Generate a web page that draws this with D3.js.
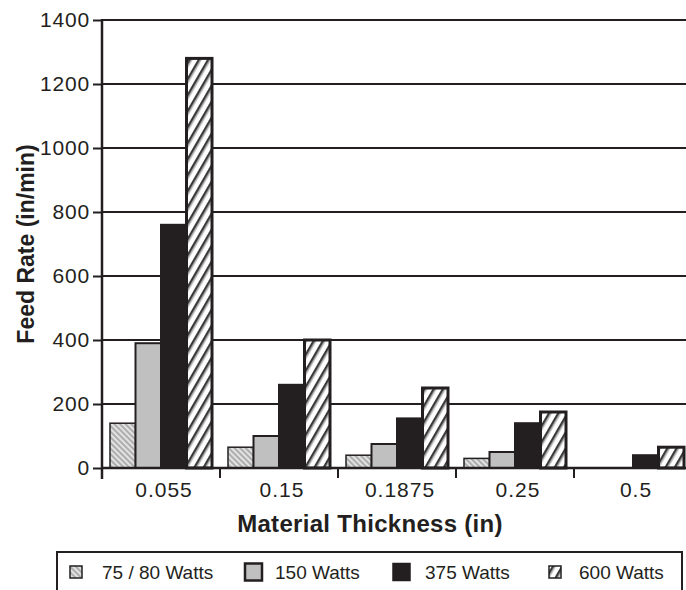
<!DOCTYPE html>
<html>
<head>
<meta charset="utf-8">
<script src="https://cdn.jsdelivr.net/npm/d3@7"></script>
<style>
    body { margin: 0; background: #fff; }
    text { font-family: "Liberation Sans", Arial, sans-serif; fill: #231f20; }
</style>
</head>
<body>
<div id="chart"></div>
<script>
    // chart data
    var categories = ['0.055', '0.15', '0.1875', '0.25', '0.5'];
    var seriesNames = ['75 / 80 Watts', '150 Watts', '375 Watts', '600 Watts'];
    var watts75 = [140, 65, 40, 30, 0];
    var watts150 = [390, 100, 75, 50, 0];
    var watts375 = [760, 260, 155, 140, 40];
    var watts600 = [1280, 400, 250, 175, 65];
    var yTicks = [0, 200, 400, 600, 800, 1000, 1200, 1400];

    var seriesValues = [watts75, watts150, watts375, watts600];
    var ink = '#231f20';

    var width = 686, height = 590;
    var svg = d3.select('#chart')
        .append('svg')
        .attr('width', width)
        .attr('height', height);

    // fill patterns
    var defs = svg.append('defs');
    var p1 = defs.append('pattern')
        .attr('id', 'hatchLight')
        .attr('patternUnits', 'userSpaceOnUse')
        .attr('width', 4).attr('height', 4)
        .attr('patternTransform', 'rotate(-45)');
    p1.append('rect').attr('width', 4).attr('height', 4).attr('fill', '#e2e2e2');
    p1.append('rect').attr('width', 1.8).attr('height', 4).attr('fill', '#a8a8a8');

    var p4 = defs.append('pattern')
        .attr('id', 'hatchDark')
        .attr('patternUnits', 'userSpaceOnUse')
        .attr('width', 8).attr('height', 8)
        .attr('patternTransform', 'rotate(30)');
    p4.append('rect').attr('width', 8).attr('height', 8).attr('fill', '#ffffff');
    p4.append('rect').attr('x', 1).attr('width', 2.5).attr('height', 8).attr('fill', '#3a3a3a');
    p4.append('rect').attr('x', 3.5).attr('width', 1).attr('height', 8).attr('fill', '#9a9a9a');

    var fills = ['url(#hatchLight)', '#c0c0c0', ink, 'url(#hatchDark)'];
    var strokeWidths = [1.5, 2, 2, 3];

    // scales
    var x0 = d3.scaleBand()
        .domain(categories)
        .range([102, 692])
        .paddingInner(0)
        .paddingOuter(0);

    var x1 = d3.scaleBand()
        .domain(d3.range(seriesNames.length))
        .range([8, x0.bandwidth() - 8]);

    var y = d3.scaleLinear()
        .domain([0, 1400])
        .range([468, 20]);

    // gridlines
    svg.append('g')
        .selectAll('line.grid')
        .data(yTicks.filter(function (d) { return d > 0; }))
        .enter()
        .append('line')
        .attr('class', 'grid')
        .attr('x1', 102)
        .attr('x2', width)
        .attr('y1', function (d) { return y(d); })
        .attr('y2', function (d) { return y(d); })
        .attr('stroke', ink)
        .attr('stroke-width', 2);

    // bars
    var bars = [];
    categories.forEach(function (c, ci) {
        seriesValues.forEach(function (vals, si) {
            if (vals[ci] > 0) {
                bars.push({cat: c, s: si, v: vals[ci]});
            }
        });
    });

    svg.append('g')
        .selectAll('rect.bar')
        .data(bars)
        .enter()
        .append('rect')
        .attr('class', 'bar')
        .attr('x', function (d) { return x0(d.cat) + x1(d.s); })
        .attr('y', function (d) { return y(d.v); })
        .attr('width', x1.bandwidth())
        .attr('height', function (d) { return y(0) - y(d.v); })
        .attr('fill', function (d) { return fills[d.s]; })
        .attr('stroke', ink)
        .attr('stroke-width', function (d) { return strokeWidths[d.s]; });

    // y axis
    var yAxis = d3.axisLeft(y)
        .tickValues(yTicks)
        .tickSize(9)
        .tickPadding(3)
        .tickFormat(d3.format('d'));

    var gy = svg.append('g')
        .attr('transform', 'translate(102,0)')
        .call(yAxis);
    gy.select('.domain').remove();
    gy.selectAll('line').attr('stroke', ink).attr('stroke-width', 2);
    gy.selectAll('text')
        .attr('font-size', 21)
        .attr('letter-spacing', 0.8)
        .attr('fill', ink);
    gy.append('line')
        .attr('x1', 0).attr('x2', 0)
        .attr('y1', 19).attr('y2', 479)
        .attr('stroke', ink)
        .attr('stroke-width', 2.5);

    // x axis
    var gx = svg.append('g')
        .attr('transform', 'translate(0,468)');
    gx.append('line')
        .attr('x1', 102).attr('x2', width)
        .attr('y1', 0).attr('y2', 0)
        .attr('stroke', ink)
        .attr('stroke-width', 2.5);
    gx.selectAll('line.tick')
        .data(categories.slice(1))
        .enter()
        .append('line')
        .attr('class', 'tick')
        .attr('x1', function (d) { return x0(d); })
        .attr('x2', function (d) { return x0(d); })
        .attr('y1', 0).attr('y2', 10)
        .attr('stroke', ink)
        .attr('stroke-width', 2);
    gx.selectAll('text.cat')
        .data(categories)
        .enter()
        .append('text')
        .attr('class', 'cat')
        .attr('x', function (d) { return x0(d) + x0.bandwidth() / 2 + 3; })
        .attr('y', 29)
        .attr('text-anchor', 'middle')
        .attr('font-size', 21)
        .attr('letter-spacing', 1)
        .text(function (d) { return d; });

    // axis titles
    svg.append('text')
        .attr('x', 370)
        .attr('y', 532)
        .attr('text-anchor', 'middle')
        .attr('font-size', 24)
        .attr('font-weight', 'bold')
        .attr('letter-spacing', 0.3)
        .text('Material Thickness (in)');

    svg.append('text')
        .attr('transform', 'translate(34,' + (y(700)) + ') rotate(-90)')
        .attr('text-anchor', 'middle')
        .attr('font-size', 23)
        .attr('font-weight', 'bold')
        .text('Feed Rate (in/min)');

    // legend
    var swatchX = [70, 245, 393, 549];
    var swatchSize = [12, 17, 17, 12];
    var labelX = [102, 275, 425, 579];
    var legend = svg.append('g');
    legend.append('rect')
        .attr('x', 57)
        .attr('y', 552)
        .attr('width', 625)
        .attr('height', 60)
        .attr('fill', '#fff')
        .attr('stroke', ink)
        .attr('stroke-width', 2);

    var items = legend.selectAll('g.item')
        .data(seriesNames)
        .enter()
        .append('g')
        .attr('class', 'item');
    items.append('rect')
        .attr('x', function (d, i) { return swatchX[i]; })
        .attr('y', function (d, i) { return 572 - swatchSize[i] / 2; })
        .attr('width', function (d, i) { return swatchSize[i]; })
        .attr('height', function (d, i) { return swatchSize[i]; })
        .attr('fill', function (d, i) { return fills[i]; })
        .attr('stroke', ink)
        .attr('stroke-width', function (d, i) { return i === 1 ? 2.5 : 1.5; });
    items.append('text')
        .attr('x', function (d, i) { return labelX[i]; })
        .attr('y', 579)
        .attr('font-size', 19)
        .text(function (d) { return d; });
</script>
</body>
</html>
